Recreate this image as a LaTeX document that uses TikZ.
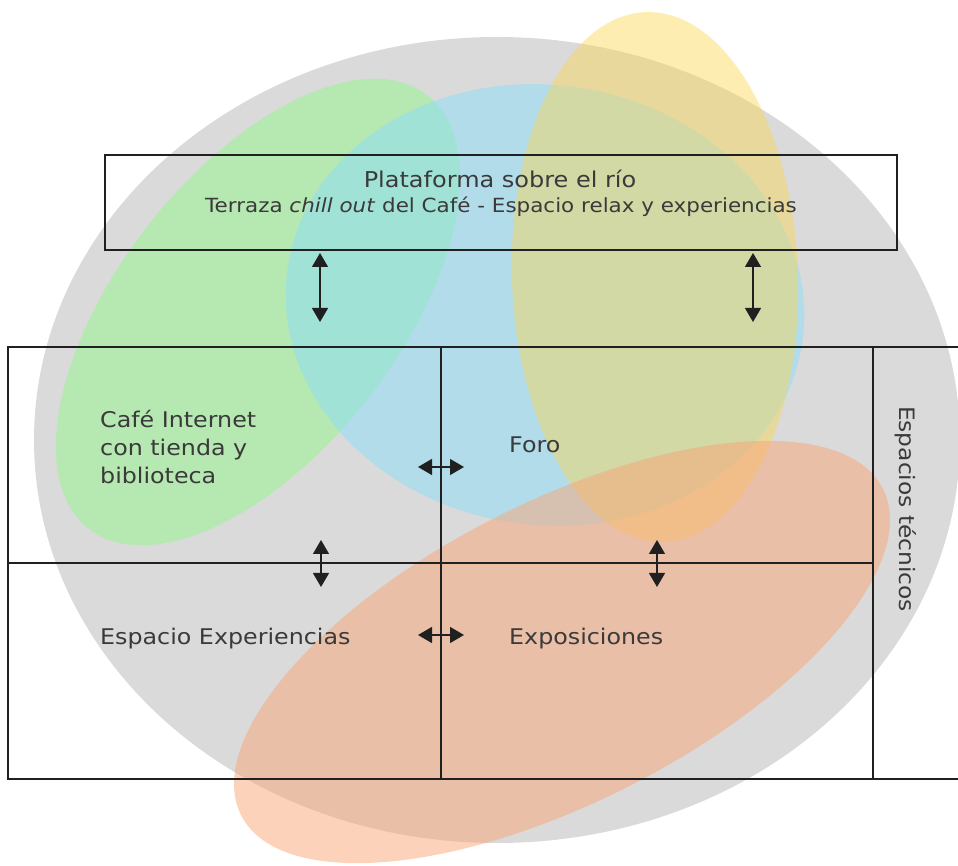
\documentclass[tikz,border=0pt]{standalone}
\usepackage{fontspec}
\setmainfont{DejaVu Sans}[FakeStretch=1.1]
\usetikzlibrary{arrows.meta}
\definecolor{bggray}{RGB}{218,218,218}
\definecolor{cgreen}{RGB}{140,250,130}
\definecolor{cblue}{RGB}{140,222,250}
\definecolor{cyellow}{RGB}{250,215,80}
\definecolor{corange}{RGB}{250,165,120}
\definecolor{txt}{RGB}{58,58,58}
\definecolor{ln}{RGB}{32,32,32}
\tikzset{
  blob/.style={fill opacity=#1},
  cell/.style={draw=ln, line width=1.4pt, rectangle, inner sep=0pt, minimum width=#1},
  lbl/.style={text=txt, inner sep=0pt, anchor=base west, font=\fontsize{21.6}{28}\selectfont},
  dbl/.style={draw=ln, line width=1.4pt, {Triangle[width=16pt,length=14pt]}-{Triangle[width=16pt,length=14pt]}}
}
\begin{document}
\begin{tikzpicture}[x=1pt,y=1pt]
\useasboundingbox (0,0) rectangle (958,865);
% shaded zones
\fill[bggray] (497,425) ellipse [x radius=463pt, y radius=403pt];
\fill[cgreen, blob=0.45, rotate around={52:(258,553)}] (258,553) ellipse [x radius=275pt, y radius=140pt];
\fill[cblue, blob=0.5, rotate around={-8:(545,560)}] (545,560) ellipse [x radius=260pt, y radius=220pt];
\fill[cyellow, blob=0.45, rotate around={2:(655,588)}] (655,588) ellipse [x radius=143pt, y radius=265pt];
\fill[corange, blob=0.5, rotate around={27:(562,213)}] (562,213) ellipse [x radius=360pt, y radius=150pt];
% frames
\node[cell=792pt, minimum height=95pt] (plat) at (501,662.5) {};
\node[cell=433pt, minimum height=216pt] (cafe) at (224.5,410) {};
\node[cell=432pt, minimum height=216pt] (foro) at (657,410) {};
\node[cell=433pt, minimum height=216pt] (espexp) at (224.5,194) {};
\node[cell=432pt, minimum height=216pt] (expo) at (657,194) {};
\node[cell=90pt, minimum height=432pt] (tec) at (918,302) {};
% texts
\node[text=txt, inner sep=0pt, anchor=base, font=\fontsize{21.8}{24}\selectfont] (t1) at (500,677) {Plataforma sobre el río};
\node[text=txt, inner sep=0pt, anchor=base, font=\fontsize{19.5}{22}\selectfont] (t2) at (501,652) {Terraza \textit{chill out} del Café - Espacio relax y experiencias};
\node[lbl] (c1) at (100,437) {Café Internet};
\node[lbl] (c2) at (100,409) {con tienda y};
\node[lbl] (c3) at (100,381) {biblioteca};
\node[lbl] (f1) at (509,412) {Foro};
\node[lbl] (e1) at (100,220) {Espacio Experiencias};
\node[lbl] (x1) at (509,220) {Exposiciones};
\node[text=txt, inner sep=0pt, rotate=-90, font=\fontsize{21.2}{26}\selectfont] (s1) at (906,356) {Espacios técnicos};
% arrows
\coordinate (a1s) at (320,612); \coordinate (a1e) at (320,543);
\coordinate (a2s) at (753,612); \coordinate (a2e) at (753,543);
\coordinate (a3s) at (418,398); \coordinate (a3e) at (464,398);
\coordinate (a4s) at (321,325); \coordinate (a4e) at (321,278);
\coordinate (a5s) at (657,325); \coordinate (a5e) at (657,278);
\coordinate (a6s) at (418,230); \coordinate (a6e) at (464,230);
\draw[dbl] (a1s) -- (a1e);
\draw[dbl] (a2s) -- (a2e);
\draw[dbl] (a3s) -- (a3e);
\draw[dbl] (a4s) -- (a4e);
\draw[dbl] (a5s) -- (a5e);
\draw[dbl] (a6s) -- (a6e);
\end{tikzpicture}
\end{document}
